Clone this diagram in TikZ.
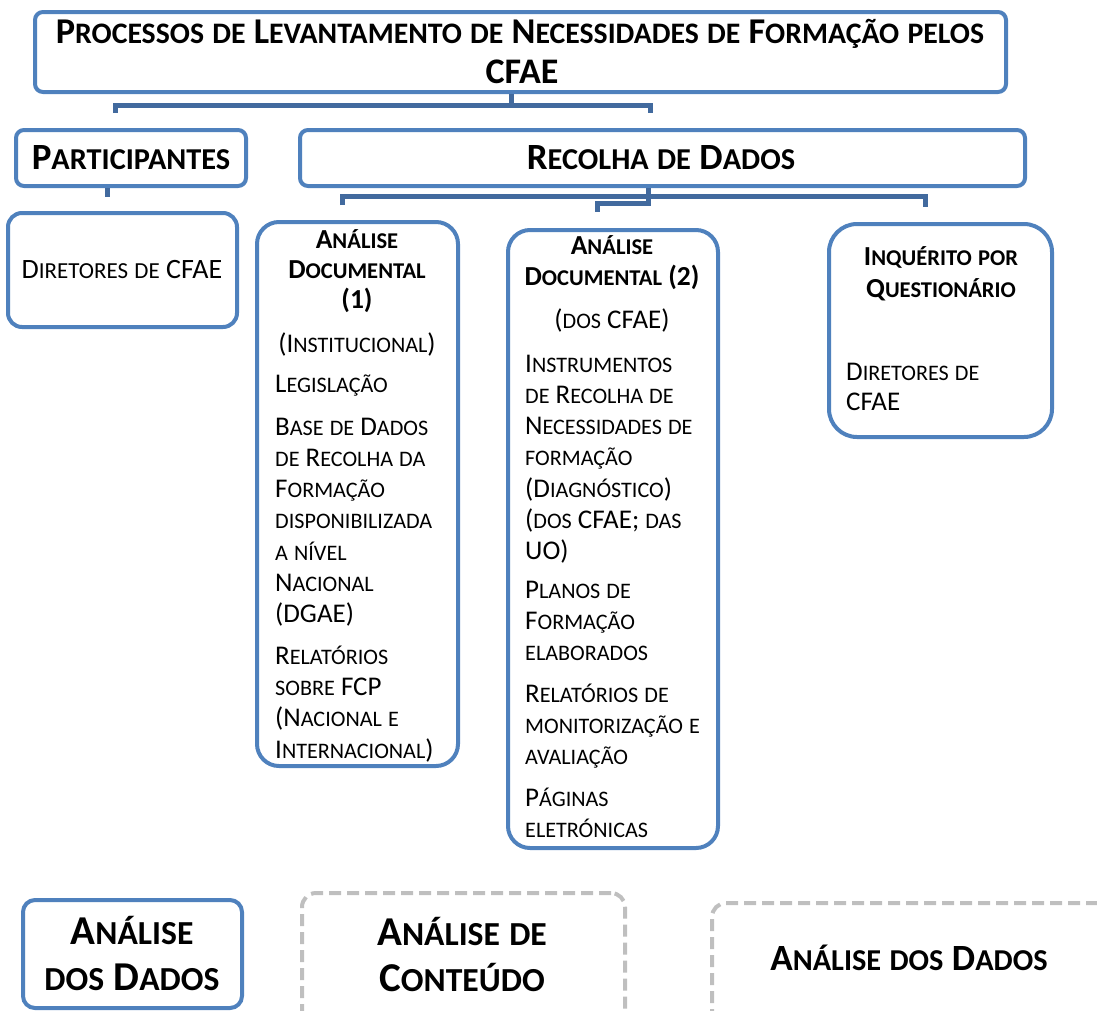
\documentclass[tikz,border=0pt]{standalone}
\usepackage{fontspec}
\setmainfont{Carlito}
\newfontfamily\scsmall[Scale=0.82]{Carlito}
\ExplSyntaxOn
\cs_new_protected:Npn \rs_char:n #1
  {
    \str_if_eq:eeTF { \text_uppercase:n {#1} } { #1 }
      { #1 }
      { { \scsmall \text_uppercase:n {#1} } }
  }
\cs_new_protected:Npn \rs_word:n #1
  { \tl_map_function:nN {#1} \rs_char:n }
\seq_new:N \l_rs_words_seq
\NewDocumentCommand \fsc { m }
  {
    \seq_set_split:Nnn \l_rs_words_seq { ~ } {#1}
    \seq_map_indexed_inline:Nn \l_rs_words_seq
      { \int_compare:nNnT {##1} > {1} { \c_space_tl } \rs_word:n {##2} }
  }
\ExplSyntaxOff
\definecolor{boxblue}{RGB}{79,129,189}
\definecolor{connblue}{RGB}{66,106,158}
\definecolor{dashgray}{RGB}{191,191,191}
\tikzset{
  bx/.style={draw=boxblue, line width=4pt, fill=white, rounded corners=#1, inner sep=0pt},
  bx/.default=8pt,
  dbx/.style={draw=dashgray, line width=4pt, dash pattern=on 12pt off 6pt, rounded corners=14pt, inner sep=0pt},
  conn/.style={draw=connblue, line width=5pt},
  txt/.style={inner sep=0pt, font=\fontsize{27}{31.3}\selectfont},
  btxt/.style={inner sep=0pt, font=\fontsize{27.5}{31}\selectfont\bfseries},
  bigtxt/.style={inner sep=0pt, font=\fontsize{37}{47}\selectfont\bfseries},
  hugetxt/.style={inner sep=0pt, font=\fontsize{41}{45.5}\selectfont\bfseries},
}
\begin{document}
\begin{tikzpicture}[x=1pt,y=-1pt]
\useasboundingbox (0,0) rectangle (1097,1010);
\clip (0,0) rectangle (1097,1010);
% connector coordinates
\coordinate (h1) at (511,105);
\coordinate (h1l) at (115,105);
\coordinate (h1r) at (650,105);
\coordinate (d1l) at (115,113);
\coordinate (d1r) at (650,113);
\coordinate (p1) at (107,197);
\coordinate (h2l) at (342,196);
\coordinate (h2r) at (925,196);
\coordinate (d2l) at (342,205);
\coordinate (d2r) at (925,207);
\coordinate (h3) at (648,203);
\coordinate (h3l) at (597,203);
\coordinate (d3) at (597,212);
% boxes (named nodes, centre and size)
\node[bx, minimum width=971pt, minimum height=80pt] (title) at (520.5,52) {};
\node[bx, minimum width=230pt, minimum height=56pt] (part) at (131,158) {};
\node[bx, minimum width=725pt, minimum height=56pt] (recolha) at (662.5,158) {};
\node[bx=14pt, minimum width=229pt, minimum height=114pt] (dir) at (122.5,270) {};
\node[bx=22pt, minimum width=201pt, minimum height=544pt] (ad1) at (357.5,494) {};
\node[bx=22pt, minimum width=210pt, minimum height=618pt] (ad2) at (613,539) {};
\node[bx=28pt, minimum width=223pt, minimum height=213pt] (inq) at (940.5,330.5) {};
\node[bx=12pt, minimum width=219pt, minimum height=108pt] (ana) at (132.5,954) {};
\node[dbx, minimum width=323pt, minimum height=147pt] (cont) at (463.5,966.5) {};
\node[dbx, minimum width=418pt, minimum height=137pt] (dad) at (921,971.5) {};
% connector paths
\draw[conn] (title.south -| h1) -- (h1);
\draw[conn] (d1l) -- (h1l) -- (h1r) -- (d1r);
\draw[conn] (part.south -| p1) -- (p1);
\draw[conn] (recolha.south -| h3) -- (h3) -- (h3l) -- (d3);
\draw[conn] (d2l) -- (h2l) -- (h2r) -- (d2r);
% texts
\node[inner sep=0pt, anchor=base, font=\fontsize{36.3}{40}\selectfont\bfseries] (t1) at (520,43) {\fsc{Processos de Levantamento de Necessidades de Formação pelos}};
\node[inner sep=0pt, anchor=base, font=\fontsize{36}{40}\selectfont\bfseries] (t2) at (522,83) {CFAE};
\node[bigtxt, anchor=base] (tp) at (131,169) {\fsc{Participantes}};
\node[bigtxt, anchor=base] (tr) at (661,169) {\fsc{Recolha de Dados}};
\node[txt, anchor=base, font=\fontsize{28}{34}\selectfont] (td) at (122,278) {\fsc{Diretores de CFAE}};
% box 1 (multi-line nodes: base = last line)
\node[btxt, anchor=base, align=center, font=\fontsize{27.5}{30}\selectfont\bfseries] (a1h) at (357,308) {\fsc{Análise}\\\fsc{Documental}\\(1)};
\node[txt, anchor=base] (a1i) at (357,352) {\fsc{(Institucional)}};
\node[txt, anchor=base west] (a1l) at (275,392) {\fsc{Legislação}};
\node[txt, anchor=base west, align=left] (a1b) at (275,622.8) {\fsc{Base de Dados}\\\fsc{de Recolha da}\\\fsc{Formação}\\\fsc{disponibilizada}\\\fsc{a nível}\\\fsc{Nacional}\\\fsc{(DGAE)}};
\node[txt, anchor=base west, align=left] (a1r) at (275,758) {\fsc{Relatórios}\\\fsc{sobre FCP}\\\fsc{(Nacional e}\\\fsc{Internacional)}};
% box 2
\node[btxt, anchor=base, align=center] (a2h) at (612,285) {\fsc{Análise}\\\fsc{Documental (2)}};
\node[txt, anchor=base] (a2d) at (612,328) {\fsc{(dos CFAE)}};
\node[txt, anchor=base west, align=left] (a2i) at (525,559.8) {\fsc{Instrumentos}\\\fsc{de Recolha de}\\\fsc{Necessidades de}\\\fsc{formação}\\\fsc{(Diagnóstico)}\\\fsc{(dos CFAE; das}\\\fsc{UO)}};
\node[txt, anchor=base west, align=left] (a2p) at (525,660.6) {\fsc{Planos de}\\\fsc{Formação}\\\fsc{elaborados}};
\node[txt, anchor=base west, align=left] (a2r) at (525,764.6) {\fsc{Relatórios  de}\\\fsc{monitorização e}\\\fsc{avaliação}};
\node[txt, anchor=base west, align=left] (a2g) at (525,837.3) {\fsc{Páginas}\\\fsc{eletrónicas}};
% box 3
\node[btxt, anchor=base, align=center, font=\fontsize{27.5}{32}\selectfont\bfseries] (iqh) at (941,297) {\fsc{Inquérito por}\\\fsc{Questionário}};
\node[txt, anchor=base west, align=left, font=\fontsize{27}{30}\selectfont] (iqd) at (846,410) {\fsc{Diretores de}\\CFAE};
% bottom
\node[hugetxt, anchor=base, align=center] (b1) at (132,990) {\fsc{Análise}\\\fsc{dos Dados}};
\node[hugetxt, anchor=base, align=center] (b2) at (462,991) {\fsc{Análise de}\\\fsc{Conteúdo}};
\node[bigtxt, anchor=base] (b3) at (909,970) {\fsc{Análise dos Dados}};
\end{tikzpicture}
\end{document}
